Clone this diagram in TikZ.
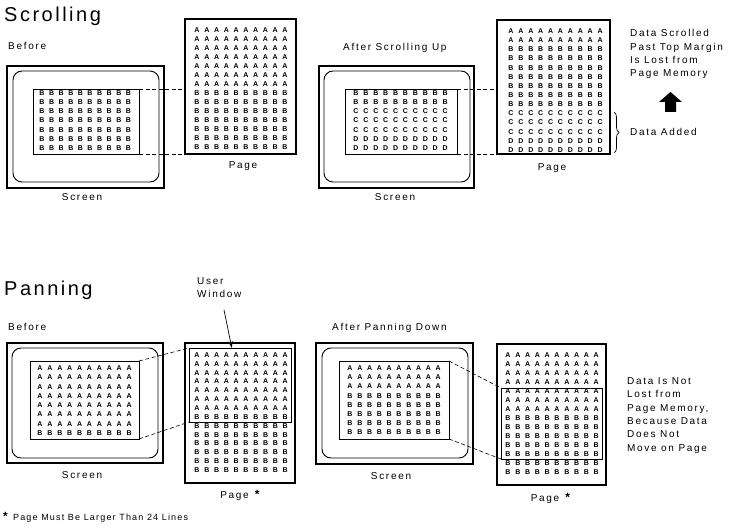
\documentclass[tikz,border=0pt]{standalone}
\usepackage{fontspec}
\setmainfont{Liberation Sans}
\newfontfamily\lblfont[LetterSpace=17]{Liberation Sans}
\newfontfamily\notefont[LetterSpace=13]{Liberation Sans}
\newfontfamily\ttlfont[LetterSpace=12.5]{Liberation Sans}
\newfontfamily\cellfont{Liberation Sans}
\usetikzlibrary{arrows.meta, calc, fit, decorations.pathreplacing}

\tikzset{
  lbl/.style={font=\lblfont\fontsize{10}{13.3}\selectfont, inner sep=0},
  ttl/.style={font=\ttlfont\fontsize{20}{24}\selectfont, inner sep=0, anchor=base west},
  cell/.style={font=\cellfont\bfseries\fontsize{7}{8}\selectfont, inner sep=0},
  frame/.style={draw, line width=1.5pt, inner sep=0, outer sep=0},
  bezel/.style={draw, line width=0.9pt, rounded corners=9pt, inner sep=0, outer sep=0},
  win/.style={draw, line width=0.7pt, inner sep=0, outer sep=0},
  link/.style={dash pattern=on 4pt off 2.5pt, line width=0.6pt},
}

% 10 columns of letters, one row per list entry
\newcommand{\lettergrid}[6]{%
  \foreach \ch [count=\rw from 0] in {#6}
    \foreach \cl in {0,...,9}
      \node[cell] (#1-\rw-\cl) at ({#2+\cl*#4},{#3+\rw*#5}) {\ch};
}
\newcommand{\bigstar}{\textbf{\large *}}

\begin{document}
\begin{tikzpicture}[x=1pt, y=-1pt]
  \useasboundingbox (0,0) rectangle (737,532);

  % Scrolling
  \node[ttl] (ttlscroll) at (4,21.2) {Scrolling};
  \node[lbl, anchor=base west] (beforeA) at (8,49.6) {Before};
  \node[frame, fit={(7,66) (164,188)}] (scrA) {};
  \node[bezel, fit={(13,71) (159,182)}] (bezA) {};
  \node[win, fit={(33,89) (139,154)}] (winA) {};
  \node[frame, fit={(185,19) (296,154)}] (pageA) {};
  \lettergrid{gA}{42}{93}{9.6}{9.17}{B,B,B,B,B,B,B}
  \lettergrid{gpA}{197}{30}{9.78}{9.0}{A,A,A,A,A,A,A,B,B,B,B,B,B,B}
  \draw[link] (winA.north east) -- (winA.north east -| pageA.west);
  \draw[link] (winA.south east) -- (pageA.south west);
  \node[lbl, anchor=base] (scrlblA) at (82,200.6) {Screen};
  \node[lbl, anchor=base] (pglblA) at (243,168.6) {Page};

  \node[lbl, anchor=base west] (afterB) at (343,50.6) {After Scrolling Up};
  \node[frame, fit={(319,66) (474,188)}] (scrB) {};
  \node[bezel, fit={(324,71) (470,182)}] (bezB) {};
  \node[win, fit={(345,89) (457,154)}] (winB) {};
  \node[frame, fit={(497,20) (610,154)}] (pageB) {};
  \lettergrid{gB}{356}{93}{9.9}{9.17}{B,B,C,C,C,D,D}
  \lettergrid{gpB}{511}{31}{9.9}{9.15}{A,A,B,B,B,B,B,B,B,C,C,C,D,D}
  \draw[link] (winB.north east) -- (winB.north east -| pageB.west);
  \draw[link] (winB.south east) -- (pageB.south west);
  \node[lbl, anchor=base] (scrlblB) at (395,200.6) {Screen};
  \node[lbl, anchor=base] (pglblB) at (552,170.6) {Page};

  \node[lbl, align=left, anchor=north west] (lostnote) at (630,29.5)
    {Data Scrolled\\Past Top Margin\\Is Lost from\\Page Memory};
  \fill (670.5,92) -- (682,102) -- (676,102) -- (676,112) -- (665,112)
    -- (665,102) -- (659,102) -- cycle;
  \draw[line width=0.7pt, decorate, decoration={brace, amplitude=5pt}]
    (614,112) -- (614,153);
  \node[lbl, anchor=base west] (added) at (630,135.6) {Data Added};

  % Panning
  \node[ttl] (ttlpan) at (4,295) {Panning};
  \node[lbl, anchor=base west] (beforeC) at (8,330.6) {Before};
  \node[frame, fit={(7,343) (163,463)}] (scrC) {};
  \node[bezel, fit={(12,348) (158,458)}] (bezC) {};
  \node[win, fit={(30,361) (139,439)}] (winC) {};
  \node[frame, fit={(185,343) (295,483)}] (pageC) {};
  \node[win, line width=0.9pt, fit={(189,348) (291,422)}] (uwinC) {};
  \lettergrid{gC}{40}{368}{9.9}{9.3}{A,A,A,A,A,A,A,B}
  \lettergrid{gpC}{197}{355}{9.8}{8.85}{A,A,A,A,A,A,A,B,B,B,B,B,B,B}
  \draw[link] (winC.north east) -- (uwinC.north west);
  \draw[link] (winC.south east) -- (uwinC.south west);
  \node[lbl, anchor=base] (scrlblC) at (82,478.6) {Screen};
  \node[lbl, anchor=base] (pglblC) at (241,498.6) {Page \bigstar};

  \node[lbl, align=left, anchor=north west] (uwlbl) at (197,277.5) {User\\Window};
  \coordinate (uwtail) at (224,310);
  \draw[line width=0.7pt, -{Stealth[length=7pt, width=4.5pt]}]
    (uwtail) -- ($(uwinC.north west)!0.42!(uwinC.north east)$);

  \node[lbl, anchor=base west] (afterD) at (332,330.6) {After Panning Down};
  \node[frame, fit={(316,343) (473,464)}] (scrD) {};
  \node[bezel, fit={(322,348) (468,458)}] (bezD) {};
  \node[win, fit={(339,361) (449,439)}] (winD) {};
  \node[frame, fit={(497,344) (606,485)}] (pageD) {};
  \node[win, line width=0.9pt, fit={(501,388) (602,459)}] (uwinD) {};
  \lettergrid{gD}{350}{368}{9.8}{9.2}{A,A,A,B,B,B,B,B}
  \lettergrid{gpD}{508}{355}{9.8}{9.0}{A,A,A,A,A,A,A,B,B,B,B,B,B,B}
  \draw[link] (winD.north east) -- (uwinD.north west);
  \draw[link] (winD.south east) -- (uwinD.south west);
  \node[lbl, anchor=base] (scrlblD) at (391,479.6) {Screen};
  \node[lbl, anchor=base] (pglblD) at (551.5,501.6) {Page \bigstar};

  \node[lbl, align=left, anchor=north west] (keptnote) at (627,377.5)
    {Data Is Not\\Lost from\\Page Memory,\\Because Data\\Does Not\\Move on Page};

  \node[lbl, font=\notefont\fontsize{9}{11}\selectfont, anchor=base west] (footnote)
    at (3,520) {\bigstar\ Page Must Be Larger Than 24 Lines};
\end{tikzpicture}
\end{document}
